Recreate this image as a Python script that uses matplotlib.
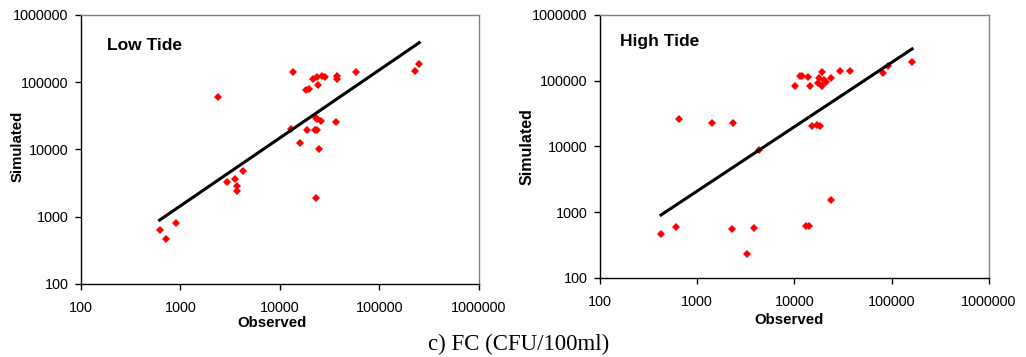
import numpy as np
import matplotlib.pyplot as plt
from matplotlib import ticker

# Low tide: observed vs simulated FC (CFU/100ml)
low_obs = [617, 722, 893, 2399, 2911, 3499, 3697, 3697, 4217, 13400, 12900,
           16000, 18400, 19400, 18700, 21600, 23400, 24300, 22500, 23500,
           22800, 23700, 26000, 24500, 23000, 26400, 28300, 37100, 37100,
           36300, 58100, 227600, 251300]
low_sim = [631, 460, 815, 61200, 3311, 3581, 2885, 2404, 4766, 141000, 20050,
           12560, 76000, 80500, 19600, 111000, 118600, 90200, 19800, 19800,
           29900, 28200, 26100, 10230, 1914, 122700, 120000, 125600, 112200,
           25200, 143900, 145600, 189200]

# High tide
high_obs = [424, 599, 649, 1416, 2323, 2270, 3213, 3822, 4266, 10160, 11430,
            12080, 13700, 14380, 15200, 17230, 18200, 13200, 14150, 17500,
            17900, 19200, 19100, 20000, 21300, 23800, 23500, 29700, 37000,
            81400, 91700, 161800]
high_sim = [461, 604, 25900, 23000, 22700, 556, 232, 575, 8750, 82200, 116700,
            116700, 114000, 82200, 20750, 21000, 20750, 625, 618, 93500,
            111000, 136000, 83200, 101400, 94600, 111000, 1517, 140600, 140600,
            132700, 165500, 192700]

# power trend lines: log10(y) = a + b*log10(x)
low_trend = (0.129, 1.011)
high_trend = (0.389, 0.978)

ticks = [100, 1000, 10000, 100000, 1000000]

plt.rcParams['font.family'] = ['Liberation Sans', 'DejaVu Sans']

fig = plt.figure(figsize=(10.26, 3.57), dpi=100)
ax1 = fig.add_axes([0.0789, 0.2045, 0.3879, 0.7535])
ax2 = fig.add_axes([0.5848, 0.2213, 0.3791, 0.7367])


def draw(ax, obs, sim, trend, title, title_xy, xl_xy, yl_xy, yl_size):
    ax.set_xscale('log')
    ax.set_yscale('log')
    ax.plot(obs, sim, linestyle='none', marker='D', markersize=4.5,
            color='#ff0000', markeredgewidth=0)
    xs = np.array([min(obs), max(obs)])
    ys = 10 ** (trend[0] + trend[1] * np.log10(xs))
    ax.plot(xs, ys, color='black', linewidth=2.2)
    ax.set_xlim(100, 1000000)
    ax.set_ylim(100, 1000000)
    for a in (ax.xaxis, ax.yaxis):
        a.set_major_locator(ticker.FixedLocator(ticks))
        a.set_minor_locator(ticker.NullLocator())
        a.set_major_formatter(ticker.FuncFormatter(lambda v, p: '%d' % v))
    ax.tick_params(direction='out', length=4, width=1, labelsize=10.4, pad=5)
    ax.tick_params(axis='x', pad=8)
    for s in ('top', 'right'):
        ax.spines[s].set_color('#808080')
    for s in ax.spines.values():
        s.set_linewidth(1)
    ax.set_xlabel('Observed', fontsize=10.8, fontweight='bold')
    ax.set_ylabel('Simulated', fontsize=yl_size, fontweight='bold')
    ax.xaxis.set_label_coords(*xl_xy)
    ax.yaxis.set_label_coords(*yl_xy)
    ax.text(title_xy[0], title_xy[1], title, transform=ax.transAxes,
            fontsize=12.5, fontweight='bold', va='center', ha='left')


draw(ax1, low_obs, low_sim, low_trend, 'Low Tide',
     (0.065, 0.885), (0.48, -0.145), (-0.16, 0.51), 10.8)
draw(ax2, high_obs, high_sim, high_trend, 'High Tide',
     (0.051, 0.90), (0.486, -0.16), (-0.188, 0.50), 11.5)
ax1.xaxis.label.set_va('center')
ax2.xaxis.label.set_va('center')
ax1.yaxis.label.set_va('center')
ax2.yaxis.label.set_va('center')

fig.text(0.505, 0.034, 'c) FC (CFU/100ml)', ha='center', va='center',
         fontsize=16.5, family=['Liberation Serif', 'DejaVu Serif'])

fig.savefig('out.png', dpi=100)
